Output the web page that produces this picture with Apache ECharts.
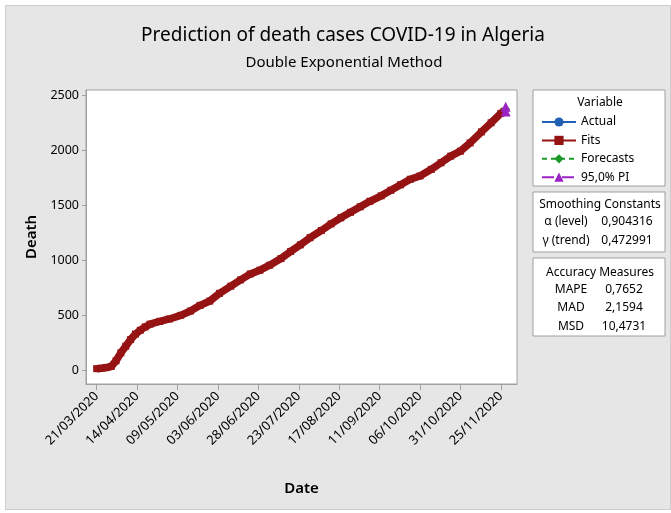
<!DOCTYPE html>
<html>
<head>
<meta charset="utf-8">
<script src="https://cdn.jsdelivr.net/npm/echarts@6/dist/echarts.min.js"></script>
<style>
html, body { margin: 0; padding: 0; background: #fff; }
#panel { position: absolute; left: 5px; top: 5px; width: 666px; height: 505px; background: #e6e6e6; border: 1px solid #cdcdcd; box-sizing: border-box; }
#chart { position: absolute; left: 0; top: 0; width: 671px; height: 513px; }
</style>
</head>
<body>
<div id="panel"></div>
<div id="chart"></div>
<script>
// tick labels of the date axis (one every 25 observations)
const dateLabels = ["21/03/2020", "14/04/2020", "09/05/2020", "03/06/2020", "28/06/2020", "23/07/2020",
  "17/08/2020", "11/09/2020", "06/10/2020", "31/10/2020", "25/11/2020"]
const tickIndex = [1, 26, 51, 76, 101, 126, 151, 176, 201, 226, 251]
const deathTicks = [0, 500, 1000, 1500, 2000, 2500]

const fitIndex = [1, 4, 7, 10, 13, 16, 19, 22, 25, 28, 31, 34, 40, 46, 53, 59, 65, 71, 77, 84, 90, 96,
  102, 108, 115, 121, 127, 133, 140, 146, 152, 158, 164, 170, 177, 183, 189, 195, 201, 208, 214, 220,
  226, 232, 239, 245, 251, 253]
const fitDeaths = [16, 20, 26, 36, 88, 160, 220, 280, 330, 365, 395, 420, 445, 467, 500, 539, 591, 630,
  700, 765, 822, 875, 910, 955, 1015, 1080, 1140, 1205, 1270, 1330, 1385, 1435, 1485, 1535, 1585, 1635,
  1685, 1735, 1765, 1825, 1885, 1945, 1990, 2065, 2165, 2248, 2333, 2352]
const actualDeaths = fitDeaths

const forecastIndex = [254]
const forecastDeaths = [2370]
const piLower = [2350]
const piUpper = [2392]

const smoothing = [["α (level)", "0,904316"], ["γ (trend)", "0,472991"]]
const accuracy = [["MAPE", "0,7652"], ["MAD", "2,1594"], ["MSD", "10,4731"]]

const FONT = '"Noto Sans", "Open Sans", sans-serif'
const pairs = (xs, ys) => xs.map((x, i) => [x, ys[i]])

const text = (t, x, y, size, align, weight) => ({
  type: "text", z: 50,
  style: {
    text: t, x: x, y: y, fill: "#000",
    font: (weight || "normal") + " " + size + "px " + FONT,
    textAlign: align || "center", align: align || "center",
    textVerticalAlign: "middle", verticalAlign: "middle"
  }
})
const box = (y, h) => ({
  type: "rect", z: 1,
  shape: {x: 533, y: y, width: 132, height: h},
  style: {fill: "#fff", stroke: "#a0a0a0", lineWidth: 1}
})

const graphics = [
  text("Prediction of death cases COVID-19 in Algeria", 343, 36, 19),
  text("Double Exponential Method", 344, 63, 15),
  box(90, 96), box(192, 60), box(258, 78),
  text("Variable", 600, 103, 12),
  text("Smoothing Constants", 600, 205, 12),
  text("Accuracy Measures", 600, 273, 12)
]
smoothing.forEach((r, i) => {
  graphics.push(text(r[0], 566, 222 + i * 19, 12))
  graphics.push(text(r[1], 627, 222 + i * 19, 12))
})
accuracy.forEach((r, i) => {
  graphics.push(text(r[0], 571, 289.5 + i * 18.3, 12))
  graphics.push(text(r[1], 624, 289.5 + i * 18.3, 12))
})

const myChart = echarts.init(document.getElementById("chart"))
myChart.setOption({
  animation: false,
  textStyle: {fontFamily: FONT},
  graphic: graphics,
  grid: {
    left: 86, right: 154, top: 90, bottom: 129,
    show: true, backgroundColor: "#fff", borderColor: "#a0a0a0", borderWidth: 1
  },
  legend: {
    z: 20,
    orient: "vertical",
    left: 536, top: 110,
    itemWidth: 34, itemHeight: 11.5, itemGap: 4.4,
    data: ["Actual", "Fits", "Forecasts", "95,0% PI"],
    textStyle: {fontSize: 12, color: "#000", fontFamily: FONT, lineHeight: 14}
  },
  xAxis: {
    type: "value",
    min: -5.6, max: 261,
    name: "Date", nameLocation: "middle", nameGap: 97,
    nameTextStyle: {fontSize: 15, fontWeight: 600, color: "#000", fontFamily: FONT},
    axisLine: {show: true, onZero: false, lineStyle: {color: "#a0a0a0"}},
    axisTick: {show: true, customValues: tickIndex, length: 6, lineStyle: {color: "#a0a0a0"}},
    axisLabel: {
      customValues: tickIndex, rotate: 45, margin: 10, fontSize: 13, color: "#000",
      formatter: v => dateLabels[tickIndex.indexOf(v)]
    },
    splitLine: {show: false}
  },
  yAxis: {
    type: "value",
    min: -123, max: 2545,
    name: "Death", nameLocation: "middle", nameGap: 45,
    nameTextStyle: {fontSize: 15, fontWeight: 600, color: "#000", fontFamily: FONT},
    axisLine: {show: true, onZero: false, lineStyle: {color: "#a0a0a0"}},
    axisTick: {show: true, customValues: deathTicks, length: 4, lineStyle: {color: "#a0a0a0"}},
    axisLabel: {customValues: deathTicks, margin: 7, fontSize: 12.5, color: "#000", formatter: v => String(v)},
    splitLine: {show: false}
  },
  series: [
    {
      name: "Actual", type: "line", z: 2,
      data: pairs(fitIndex, actualDeaths),
      symbol: "circle", symbolSize: 7, showSymbol: false,
      itemStyle: {color: "#1f5fb4"},
      lineStyle: {color: "#1f5fb4", width: 1.5}
    },
    {
      name: "Fits", type: "line", z: 3,
      data: pairs(fitIndex, fitDeaths),
      symbol: "rect", symbolSize: 7,
      itemStyle: {color: "#961313"},
      lineStyle: {color: "#961313", width: 7.5}
    },
    {
      name: "Forecasts", type: "line", z: 4,
      data: pairs(forecastIndex, forecastDeaths),
      symbol: "diamond", symbolSize: 9,
      itemStyle: {color: "#1b9a2a"},
      lineStyle: {color: "#1b9a2a", width: 1.5, type: [5, 4]}
    },
    {
      name: "95,0% PI", type: "line", z: 5,
      data: pairs(forecastIndex, piLower),
      symbol: "triangle", symbolSize: 10,
      itemStyle: {color: "#9b22c4"},
      lineStyle: {color: "#9b22c4", width: 1.5, type: [12, 8]}
    },
    {
      name: "95,0% PI", type: "line", z: 5,
      data: pairs(forecastIndex, piUpper),
      symbol: "triangle", symbolSize: 10,
      itemStyle: {color: "#9b22c4"},
      lineStyle: {color: "#9b22c4", width: 1.5, type: [12, 8]}
    }
  ]
})
</script>
</body>
</html>
